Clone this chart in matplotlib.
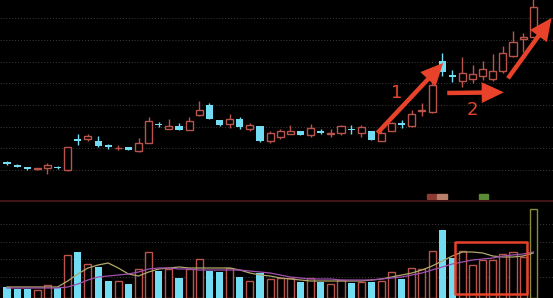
import numpy as np
import matplotlib
matplotlib.use("Agg")
import matplotlib.pyplot as plt

# daily candles (open, close, high, low)
opens = [13.8, 13.55, 13.3, 13.13, 13.23, 13.27, 12.97, 16.07, 16.07, 15.93,
         15.47, 15.17, 15.3, 14.9, 15.73, 17.63, 17.1, 17.4, 17.0, 18.5,
         19.47, 18.0, 17.6, 18.13, 17.13, 17.35, 15.9, 16.33, 16.6, 16.87,
         16.47, 16.93, 16.6, 16.73, 17.13, 16.73, 16.93, 15.95, 16.93, 17.73,
         17.4, 18.87, 18.83, 23.93, 22.5, 21.93, 22.13, 22.4, 22.07, 22.87,
         24.4, 26.07, 26.33]
closes = [13.6, 13.35, 13.1, 13.17, 13.47, 13.17, 15.27, 15.93, 16.37, 15.4,
          15.27, 15.25, 15.03, 15.73, 17.93, 17.5, 17.4, 17.03, 17.87, 19.0,
          18.13, 17.47, 18.07, 17.27, 17.53, 15.9, 16.7, 16.87, 16.87, 16.53,
          17.2, 16.67, 16.73, 17.4, 17.0, 17.27, 16.0, 16.7, 17.67, 17.47,
          18.6, 19.0, 21.5, 22.83, 22.27, 22.67, 22.6, 23.13, 22.93, 24.73,
          25.8, 26.33, 29.33]
highs = [13.9, 13.6, 13.35, 13.25, 13.7, 13.4, 15.3, 16.57, 16.57, 16.37,
         15.57, 15.5, 15.35, 16.17, 18.33, 17.83, 18.07, 17.73, 18.33, 19.9,
         19.73, 18.05, 18.6, 18.33, 17.67, 17.4, 16.9, 17.07, 17.5, 16.9,
         17.6, 17.07, 17.07, 17.53, 17.53, 17.47, 16.95, 16.9, 17.8, 18.0,
         19.0, 19.67, 22.07, 24.73, 23.0, 24.33, 23.47, 23.93, 24.6, 25.4,
         26.87, 26.67, 30.2]
lows = [13.5, 13.3, 13.05, 13.05, 12.6, 13.1, 12.95, 15.5, 15.93, 15.27,
        15.1, 14.97, 15.0, 14.85, 15.7, 17.27, 17.1, 17.03, 17.0, 18.4,
        18.07, 17.45, 17.2, 17.13, 16.87, 15.8, 15.7, 16.13, 16.6, 16.5,
        16.33, 16.6, 16.33, 16.47, 16.6, 16.27, 15.97, 15.9, 16.9, 17.2,
        17.33, 18.4, 18.67, 22.4, 21.83, 21.27, 21.67, 22.0, 21.87, 22.73,
        24.33, 24.8, 26.33]
volume = [11, 9, 9, 8, 13, 10, 43, 46, 34, 31,
          17, 17, 14, 29, 46, 27, 29, 20, 29, 39,
          27, 26, 30, 21, 17, 25, 19, 20, 20, 16,
          20, 16, 14, 18, 15, 16, 16, 17, 26, 19,
          30, 29, 47, 68, 40, 47, 33, 38, 38, 44,
          46, 41, 89]
vol_ma5 = [11, 11, 11, 11, 11, 11, 17, 24, 30, 33,
           35, 30, 24, 22, 26, 29, 30, 31, 30, 30,
           30, 30, 30, 28, 25, 23, 22, 20, 19, 18,
           17, 17, 17, 17, 17, 17, 18, 19, 21, 23,
           25, 28, 32, 37, 42, 46, 46, 45, 42, 41,
           41, 42, 45]
vol_ma10 = [10, 10, 10, 10, 10, 10, 11, 14, 18, 21,
            22, 23, 24, 26, 29, 30, 30, 29, 29, 28,
            28, 28, 28, 28, 27, 26, 25, 23, 21, 20,
            19, 19, 19, 18, 18, 18, 18, 19, 20, 21,
            23, 25, 28, 31, 34, 36, 38, 39, 40, 42,
            43, 44, 46]

RED = "#b8544c"
CYAN = "#72dcf2"
ARROW = "#e8432a"
GRID = "#3c3c3c"

o = np.array(opens); c = np.array(closes)
h = np.array(highs); l = np.array(lows)
v = np.array(volume)
x = np.arange(1, len(o) + 1)
up = c >= o

fig = plt.figure(figsize=(5.53, 2.98), dpi=100, facecolor="black")
ax1 = fig.add_axes([0, 98 / 298, 1, 200 / 298], facecolor="black")
ax2 = fig.add_axes([0, 0, 1, 98 / 298], facecolor="black")

for ax in (ax1, ax2):
    ax.set_xlim(0.31, 54.95)
    ax.set_xticks([]); ax.set_yticks([])
    for s in ax.spines.values():
        s.set_visible(False)

ax1.set_ylim(10, 30)
ax2.set_ylim(0, 98)

# dotted grid
for g in np.arange(13.0, 29.0, 2.167):
    ax1.axhline(g, color=GRID, lw=0.7, ls=(0, (1, 2)), zorder=0)
for g in [21, 39, 56, 74]:
    ax2.axhline(g, color=GRID, lw=0.7, ls=(0, (1, 2)), zorder=0)
ax2.axhline(97.5, color="#4e1a1a", lw=1.2)

# candles
top = np.maximum(o, c); bot = np.minimum(o, c)
ax1.vlines(x[up], top[up], h[up], color=RED, lw=1, zorder=2)
ax1.vlines(x[up], l[up], bot[up], color=RED, lw=1, zorder=2)
ax1.bar(x[up], np.maximum(c[up] - o[up], 0.04), bottom=o[up], width=0.7,
        facecolor="black", edgecolor=RED, linewidth=1, zorder=3)
ax1.vlines(x[~up], l[~up], h[~up], color=CYAN, lw=1, zorder=2)
ax1.bar(x[~up], np.maximum(o[~up] - c[~up], 0.08), bottom=c[~up], width=0.7,
        color=CYAN, linewidth=0, zorder=3)

# volume
ax2.bar(x[up][:-1], v[up][:-1], width=0.7, facecolor="black", edgecolor=RED,
        linewidth=1, zorder=2)
ax2.bar(x[-1], v[-1], width=0.7, facecolor="black", edgecolor="#8a8a3c",
        linewidth=1, zorder=2)
ax2.bar(x[~up], v[~up], width=0.7, color=CYAN, linewidth=0, zorder=2)
ax2.plot(x, vol_ma5, color="#b0a86a", lw=0.9, zorder=3)
ax2.plot(x, vol_ma10, color="#a050b0", lw=0.9, zorder=3)

# small signal tags above the volume panel
ax1.add_patch(plt.Rectangle((42.5, 10.1), 0.9, 0.5, color="#8a3a30"))
ax1.add_patch(plt.Rectangle((43.5, 10.1), 1.0, 0.5, color="#b8806a"))
ax1.add_patch(plt.Rectangle((47.6, 10.1), 0.9, 0.5, color="#5a8a34"))

# highlight box
ax2.add_patch(plt.Rectangle((45.27, 4), 7.1, 52, fill=False, edgecolor=ARROW,
                            lw=1.8, joinstyle="round", zorder=4))

# arrows and labels
style = "simple,head_width=1.5,head_length=1.6,tail_width=0.32"
for (x0, y0), (x1, y1) in [((37.6, 16.7), (44.1, 23.7)),
                           ((44.5, 20.7), (50.1, 20.77)),
                           ((50.5, 22.17), (54.8, 28.2))]:
    ax1.annotate("", xy=(x1, y1), xytext=(x0, y0),
                 arrowprops=dict(arrowstyle=style, color=ARROW, lw=0,
                                 shrinkA=0, shrinkB=0, mutation_scale=10),
                 zorder=5)
ax1.text(39.5, 20.7, "1", color=ARROW, fontsize=13, ha="center", va="center")
ax1.text(47.0, 19.0, "2", color=ARROW, fontsize=13, ha="center", va="center")

fig.savefig("out.png", dpi=100, facecolor="black")
